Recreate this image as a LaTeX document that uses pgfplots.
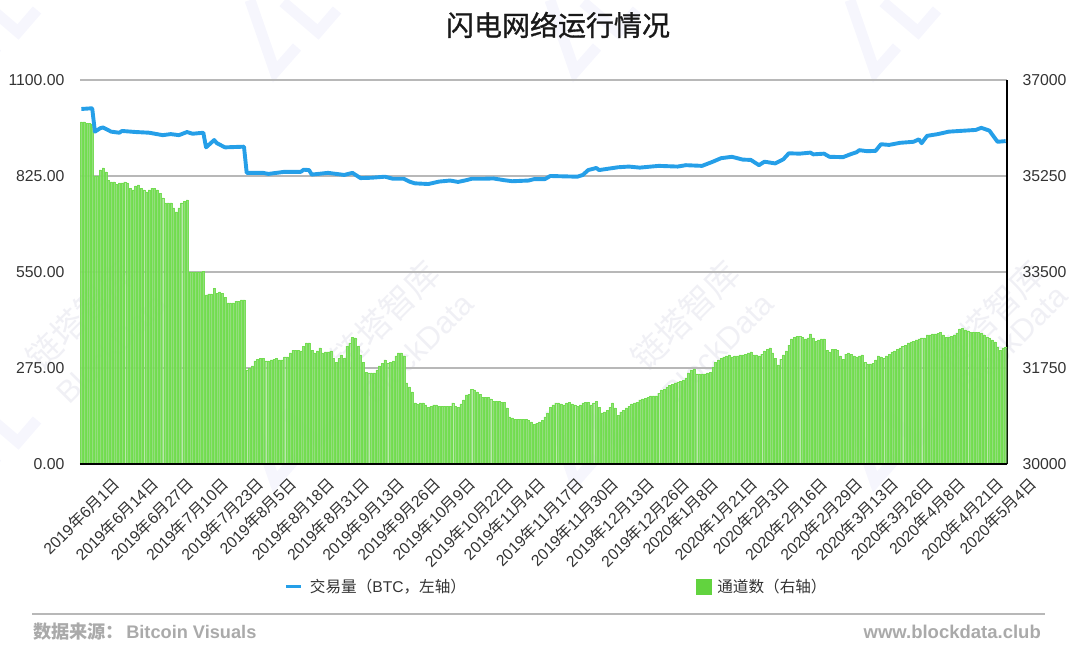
\documentclass[border=0pt]{standalone}
\usepackage{graphicx}
\usepackage{fontspec}
\usepackage{pgfplots}
\usepackage{pgfplotstable}
\pgfplotsset{compat=1.18}
\setmainfont{Liberation Sans}
\newfontfamily\cjk{Noto Sans CJK SC}
\newfontfamily\cjkt[FakeBold=1]{Noto Sans CJK SC}
\definecolor{linec}{HTML}{259FE8}
\definecolor{barc}{HTML}{8BDB73}
\definecolor{bare}{HTML}{6FDD4C}
\definecolor{legc}{HTML}{62D33F}
\definecolor{gridc}{HTML}{B8B8B8}
\definecolor{wmk}{HTML}{F0F0F5}
\definecolor{wml}{HTML}{F6F6FD}
\definecolor{foot}{HTML}{AAAAAA}
\definecolor{lab}{HTML}{333333}
\newcommand\dl[3]{\rotatebox{45}{#1{\cjk 年}#2{\cjk 月}#3{\cjk 日}}}
\begin{document}
\begin{tikzpicture}[x=1pt,y=1pt]
\path[use as bounding box] (0,0) rectangle (1080,662);
% watermark logos
\clip (0,0) rectangle (1080,662);
\foreach \dx/\dy in {-300/0,0/0,300/0,600/0,-300/410,0/410,300/410,600/410}{
  \draw[wml,line width=11pt,line join=miter] (250+\dx,662-\dy) -- (275+\dx,590-\dy) -- (297+\dx,615-\dy);
  \draw[wml,line width=11pt,line join=miter] (283+\dx,660-\dy) -- (318+\dx,630-\dy) -- (337+\dx,652-\dy);
}
% watermark text
\foreach \x/\y/\bx/\by in {80/347/112/314,385/347/418/314,685/347/718/314,990/347/1012/322}{
  \node[rotate=45,text=wmk,font={\cjk\fontsize{34}{34}\selectfont}] at (\x,\y) {链塔智库};
  \node[rotate=45,text=wmk,font=\fontsize{31}{32}\selectfont] at (\bx,\by) {BlockData};
}
\begin{axis}[
  at={(80pt,198pt)},anchor=south west,
  scale only axis,width=927pt,height=384pt,
  xmin=-0.5,xmax=341.5,ymin=30000,ymax=37000,
  axis y line*=right,axis x line*=bottom,
  axis line style={black,line width=1.5pt,-},
  ytick={30000,31750,33500,35250,37000},
  yticklabels={30000,31750,33500,35250,37000},
  scaled y ticks=false,
  ymajorgrids,grid style={gridc,line width=1.1pt},
  xtick={0,13,...,338},
  xticklabels={\dl{2019}{6}{1},\dl{2019}{6}{14},\dl{2019}{6}{27},\dl{2019}{7}{10},\dl{2019}{7}{23},\dl{2019}{8}{5},\dl{2019}{8}{18},\dl{2019}{8}{31},\dl{2019}{9}{13},\dl{2019}{9}{26},\dl{2019}{10}{9},\dl{2019}{10}{22},\dl{2019}{11}{4},\dl{2019}{11}{17},\dl{2019}{11}{30},\dl{2019}{12}{13},\dl{2019}{12}{26},\dl{2020}{1}{8},\dl{2020}{1}{21},\dl{2020}{2}{3},\dl{2020}{2}{16},\dl{2020}{2}{29},\dl{2020}{3}{13},\dl{2020}{3}{26},\dl{2020}{4}{8},\dl{2020}{4}{21},\dl{2020}{5}{4}},
  tick style={draw=none},
  xticklabel style={anchor=north,text=lab,font=\fontsize{15.8}{16}\selectfont,yshift=-8pt},
  yticklabel style={text=lab,font=\fontsize{15.8}{16}\selectfont,xshift=12pt},
]
\addplot[ybar,bar shift=0pt,bar width=2.05pt,draw=bare,line width=0.3pt,fill=barc,opacity=0.93] table[x expr=\coordindex,y index=0] {
36235
36235
36216
36216
36198
35250
35250
35360
35396
35323
35177
35141
35141
35104
35123
35123
35141
35123
35031
34995
35068
35086
35031
34995
34959
34995
35031
35031
34995
34940
34849
34758
34758
34758
34667
34594
34667
34758
34794
34813
33500
33500
33500
33500
33500
33518
33081
33099
33099
33208
33117
33136
33117
33044
32935
32935
32935
32971
32971
32990
32990
31714
31750
31787
31878
31914
31932
31932
31878
31878
31896
31914
31932
31896
31896
31951
31951
32024
32078
32078
32078
32060
32151
32206
32206
32078
32024
32060
32115
32024
32042
32042
32060
31932
31859
31932
31987
31932
32151
32206
32315
32297
32151
31987
31859
31677
31659
31659
31659
31714
31787
31841
31896
31841
31859
31878
31969
32024
32024
31969
31477
31404
31313
31112
31094
31112
31112
31076
31039
31057
31076
31076
31057
31057
31057
31057
31057
31112
31057
31039
31094
31167
31258
31276
31367
31349
31313
31276
31221
31221
31221
31185
31148
31148
31148
31130
31130
31021
30857
30839
30820
30820
30820
30820
30820
30802
30766
30729
30747
30766
30802
30857
30930
31039
31076
31112
31112
31094
31076
31112
31130
31094
31076
31057
31076
31112
31130
31130
31076
31112
31148
31039
30930
30948
30984
31039
31112
31021
30893
30948
30984
31021
31057
31094
31112
31130
31167
31185
31203
31221
31240
31240
31240
31294
31349
31367
31404
31440
31458
31477
31495
31513
31531
31568
31659
31714
31732
31641
31641
31641
31641
31659
31677
31768
31859
31896
31932
31951
31969
31987
31951
31969
31969
31987
31987
32005
32024
32042
31987
31987
31969
32005
32060
32096
32115
32024
31932
31805
31914
31987
32060
32169
32279
32315
32333
32333
32315
32279
32297
32370
32297
32242
32261
32279
32279
32078
32042
32096
32096
32078
31969
31914
32005
32024
32005
31969
31951
31969
31987
31859
31823
31823
31841
31896
31969
31951
31932
31969
32005
32042
32060
32096
32115
32151
32169
32206
32224
32242
32261
32279
32297
32297
32352
32352
32370
32370
32388
32406
32352
32315
32315
32333
32352
32388
32461
32479
32443
32425
32406
32406
32406
32406
32388
32352
32315
32297
32261
32224
32133
32078
32115
32133
};
\end{axis}
\begin{axis}[
  at={(80pt,198pt)},anchor=south west,
  scale only axis,width=927pt,height=384pt,
  xmin=-0.5,xmax=341.5,ymin=0,ymax=1100,
  axis y line*=left,axis x line*=bottom,
  y axis line style={draw=none},
  x axis line style={black,line width=1.5pt,-},
  xtick=\empty,
  ytick={0,275,550,825,1100},
  yticklabels={0.00,275.00,550.00,825.00,1100.00},
  tick style={draw=none},
  yticklabel style={text=lab,font=\fontsize{15.8}{16}\selectfont,xshift=-12pt},
  clip=false,
  legend columns=4,
  legend cell align=left,
  legend style={at={(0.2211,-0.32)},anchor=west,draw=none,fill=none,inner sep=0pt,outer sep=0pt,
    text=lab,font={\fontsize{15.6}{16}\selectfont}},
]
\addplot[linec,line width=3.9pt,line join=round,
  legend image code/.code={\draw[linec,line width=3pt] (0pt,0pt) -- (15pt,0pt);}] coordinates {
(0,1017)(4,1019)(5,952)(7,962)(8,964)(11,952)(14,949)(15,954)(20,951)(25,949)(30,942)(33,945)(36,942)(39,951)(41,946)(45,949)(46,907)(49,928)(50,919)(53,907)(60,909)(61,834)(67,834)(69,831)(75,837)(81,837)(82,843)(84,842)(85,829)(91,834)(97,828)(100,834)(103,819)(107,820)(112,823)(115,817)(119,817)(121,809)(123,804)(128,802)(132,809)(136,812)(139,808)(142,813)(144,817)(148,817)(152,818)(156,813)(159,810)(165,812)(167,816)(171,816)(173,825)(183,823)(185,828)(187,842)(190,848)(191,842)(198,850)(202,852)(206,849)(213,854)(220,852)(223,856)(229,854)(233,866)(236,876)(240,880)(244,872)(247,871)(250,856)(252,866)(256,861)(259,873)(261,890)(265,889)(269,892)(270,887)(274,889)(276,880)(281,879)(284,888)(286,893)(287,899)(290,896)(293,897)(295,916)(298,914)(302,920)(307,923)(309,930)(310,919)(312,940)(316,945)(320,952)(326,955)(330,957)(332,963)(335,955)(338,923)(341,925)
};
\addlegendentry{\hspace{5pt}{\cjk 交易量（}BTC{\cjk ，左轴）}\rule{228pt}{0pt}}
\addlegendimage{legend image code/.code={\fill[legc] (0pt,-7.5pt) rectangle (15pt,7.5pt);}}
\addlegendentry{\hspace{4pt}{\cjk 通道数（右轴）}}
\end{axis}
\node[font={\cjkt\fontsize{28}{28}\selectfont},text=black!90,anchor=center] at (558,637) {闪电网络运行情况};
\draw[gridc,line width=1.5pt] (32,48) -- (1045,48);
\node[anchor=west,text=foot,font={\bfseries\fontsize{18.2}{18}\selectfont},inner sep=0pt] at (33,30.5) {{\cjk 数据来源：}\hspace{-3pt} Bitcoin Visuals};
\node[anchor=east,text=foot,font={\bfseries\fontsize{18.5}{18}\selectfont},inner sep=0pt] at (1041,30.5) {www.blockdata.club};
\end{tikzpicture}
\end{document}
